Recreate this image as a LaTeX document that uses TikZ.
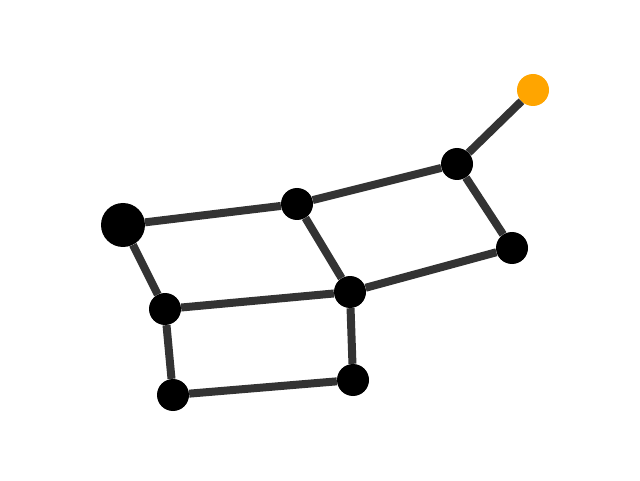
\documentclass[tikz,border=0pt]{standalone}
\usepackage{xcolor}
\definecolor{edgegray}{HTML}{333333}
\definecolor{leaforange}{HTML}{FFA500}
\tikzset{
  vertex/.style={circle, fill=black, inner sep=0pt, minimum size=32pt},
  bigvertex/.style={vertex, minimum size=44pt},
  tipvertex/.style={vertex, fill=leaforange},
  edge/.style={draw=edgegray, line width=8pt}
}
\begin{document}
\begin{tikzpicture}[x=1pt,y=1pt]
\useasboundingbox (0,0) rectangle (640,480);
% vertices
\node[bigvertex] (a) at (123,255) {};
\node[vertex] (b) at (297,276) {};
\node[vertex] (c) at (457,316) {};
\node[tipvertex] (d) at (533,390) {};
\node[vertex] (e) at (512,232) {};
\node[vertex] (f) at (350,188) {};
\node[vertex] (g) at (165,171) {};
\node[vertex] (h) at (173,85) {};
\node[vertex] (i) at (353,100) {};
% edges
\draw[edge] (a) -- (b);
\draw[edge] (b) -- (c);
\draw[edge] (c) -- (d);
\draw[edge] (c) -- (e);
\draw[edge] (e) -- (f);
\draw[edge] (b) -- (f);
\draw[edge] (a) -- (g);
\draw[edge] (g) -- (f);
\draw[edge] (g) -- (h);
\draw[edge] (h) -- (i);
\draw[edge] (i) -- (f);
\end{tikzpicture}
\end{document}
